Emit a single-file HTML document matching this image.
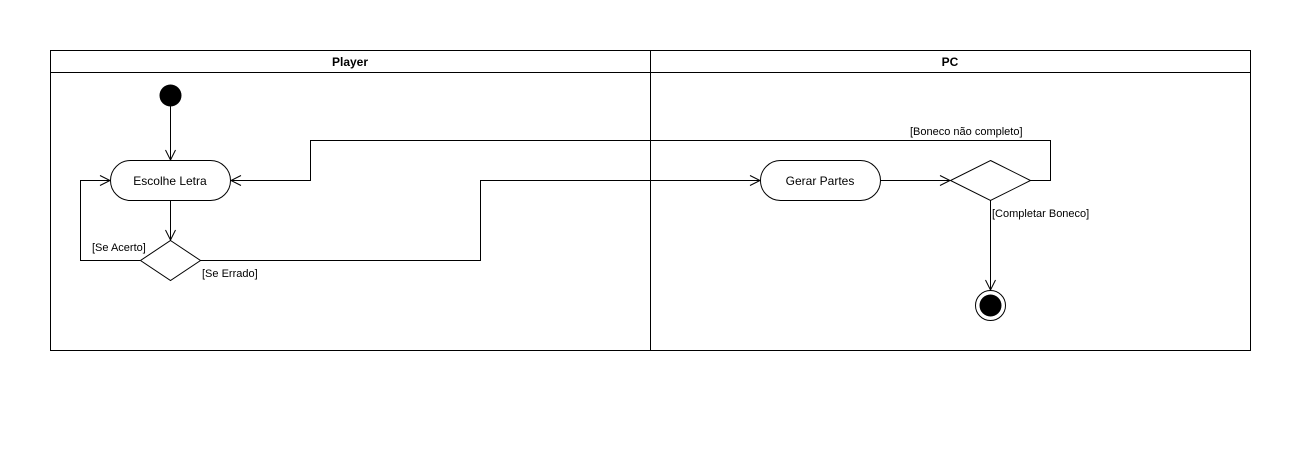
<!DOCTYPE html>
<html><head><meta charset="utf-8"><style>body{margin:0;background:#fff}svg{display:block}text{font-family:"Liberation Sans",Arial,sans-serif;fill:#000}</style></head>
<body>
<svg width="1301" height="475" viewBox="0 0 1301 475" xmlns="http://www.w3.org/2000/svg">
<g fill="none" stroke="#000" stroke-width="1">
<rect x="50.5" y="50.5" width="1200" height="300"/>
<line x1="50" y1="72.5" x2="1250" y2="72.5"/>
<line x1="650.5" y1="50" x2="650.5" y2="350"/>
<rect x="110.5" y="160.5" width="120" height="40" rx="20"/>
<rect x="760.5" y="160.5" width="120" height="40" rx="20"/>
<polygon points="170.5,240.5 200.5,260.5 170.5,280.5 140.5,260.5"/>
<polygon points="990.5,160.5 1030.5,180.5 990.5,200.5 950.5,180.5"/>
<polyline points="170.5,106 170.5,160"/>
<polyline points="170.5,200 170.5,240"/>
<polyline points="140,260.5 80.5,260.5 80.5,180.5 110,180.5"/>
<polyline points="200,260.5 480.5,260.5 480.5,180.5 760,180.5"/>
<polyline points="880,180.5 950,180.5"/>
<polyline points="1030,180.5 1050.5,180.5 1050.5,140.5 310.5,140.5 310.5,180.5 231,180.5"/>
<polyline points="990.5,200 990.5,290"/>
<!-- arrowheads -->
<polyline points="165.5,150 170.5,160 175.5,150"/>
<polyline points="165.5,230 170.5,240 175.5,230"/>
<polyline points="100,175.5 110,180.5 100,185.5"/>
<polyline points="750,175.5 760,180.5 750,185.5"/>
<polyline points="940,175.5 950,180.5 940,185.5"/>
<polyline points="241,175.5 231,180.5 241,185.5"/>
<polyline points="985.5,280 990.5,290 995.5,280"/>
<circle cx="990.5" cy="305.5" r="15"/>
</g>
<circle cx="170.5" cy="95.5" r="11" fill="#000"/>
<circle cx="990.5" cy="305.5" r="11" fill="#000"/>
<g font-size="12">
<text x="350" y="66" text-anchor="middle" font-weight="bold">Player</text>
<text x="950" y="66" text-anchor="middle" font-weight="bold">PC</text>
<text x="170" y="185" text-anchor="middle">Escolhe Letra</text>
<text x="820" y="185" text-anchor="middle">Gerar Partes</text>
</g>
<g font-size="11">
<text x="910" y="135">[Boneco não completo]</text>
<text x="992" y="217">[Completar Boneco]</text>
<text x="92" y="251">[Se Acerto]</text>
<text x="202" y="277">[Se Errado]</text>
</g>
</svg>
</body></html>
